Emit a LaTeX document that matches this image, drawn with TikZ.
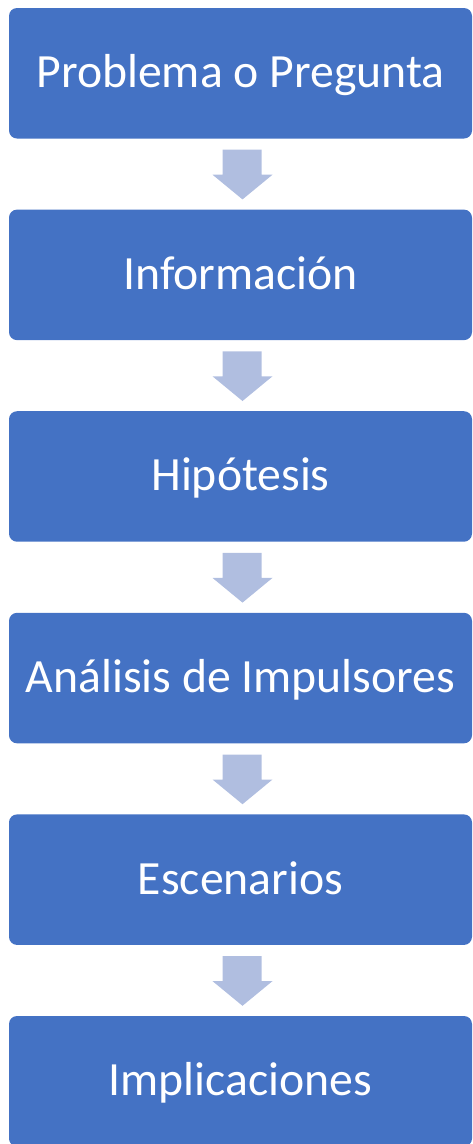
\documentclass[tikz,border=0pt]{standalone}
\usepackage{fontspec}
\setmainfont{Carlito}
\usetikzlibrary{calc}
\definecolor{boxblue}{RGB}{68,114,196}
\definecolor{arrowblue}{RGB}{176,190,224}
\tikzset{
	stage/.style={fill=boxblue, rounded corners=8pt, minimum width=463pt, minimum height=130.5pt,
		inner sep=0pt, text=white, font=\fontsize{47.7}{57}\selectfont, text height=35pt, text depth=6pt},
	flecha/.style={fill=arrowblue}
}
\begin{document}
\begin{tikzpicture}[x=1pt,y=-1pt]
		\useasboundingbox (0,0) rectangle (473,1144);
		\foreach \n/\txt in {1/Problema o Pregunta,2/Información,3/Hipótesis,4/Análisis de Impulsores,5/Escenarios,6/Implicaciones}{
		\node[stage] (s\n) at (240.5,73.25+201.6*\n-201.6) {\txt};
		};
		\foreach \a/\b in {1/2,2/3,3/4,4/5,5/6}{
		\fill[flecha] ($(s\a.south)+(-18,11)$) -- ($(s\a.south)+(21,11)$) -- ($(s\a.south)+(21,36)$)
			-- ($(s\a.south)+(32,36)$) -- ($(s\b.north)+(2,-10)$) -- ($(s\a.south)+(-28,36)$)
			-- ($(s\a.south)+(-18,36)$) -- cycle;
		};
	\end{tikzpicture}
\end{document}
